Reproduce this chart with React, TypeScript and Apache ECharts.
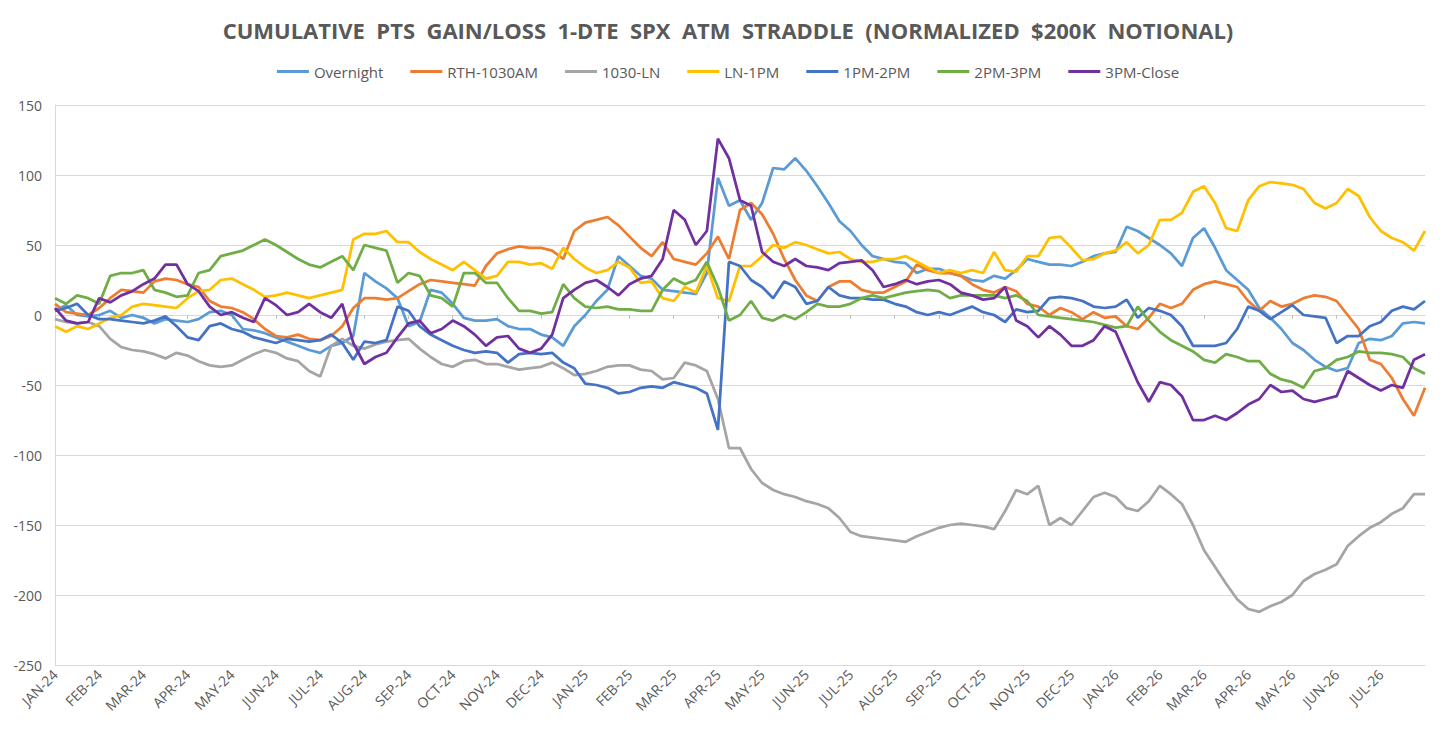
import React, { useEffect, useRef } from 'react';
import * as echarts from 'echarts';

const MONTHS = [
  'JAN-24', 'FEB-24', 'MAR-24', 'APR-24', 'MAY-24', 'JUN-24', 'JUL-24', 'AUG-24', 'SEP-24', 'OCT-24', 'NOV-24', 'DEC-24',
  'JAN-25', 'FEB-25', 'MAR-25', 'APR-25', 'MAY-25', 'JUN-25', 'JUL-25', 'AUG-25', 'SEP-25', 'OCT-25', 'NOV-25', 'DEC-25',
  'JAN-26', 'FEB-26', 'MAR-26', 'APR-26', 'MAY-26', 'JUN-26', 'JUL-26',
];

// four points per month (roughly weekly), plus the closing point
const CATEGORIES = [...MONTHS.flatMap((m) => [m, `${m} w2`, `${m} w3`, `${m} w4`]), 'AUG-26'];

const Y_MIN = -250;
const Y_MAX = 150;
const Y_STEP = 50;

const OVERNIGHT = [
  3, 7, 0, -1, 0, 3, -2, 0, -2, -6, -3, -4, -5, -3, 2, 3, 0, -10, -11, -13, -16, -19, -22, -25, -27, -22, -20, -15,
  30, 24, 19, 12, -8, -5, 18, 16, 8, -2, -4, -4, -3, -8, -10, -10, -14, -16, -22, -8, 0, 10, 18, 42, 35, 28, 26, 18,
  17, 16, 15, 30, 98, 78, 82, 68, 80, 105, 104, 112, 103, 92, 80, 67, 60, 50, 42, 40, 38, 37, 30, 33, 33, 30, 28, 25,
  24, 28, 26, 32, 40, 38, 36, 36, 35, 38, 42, 44, 45, 63, 60, 55, 50, 44, 35, 55, 62, 48, 32, 25, 18, 5, -2, -10, -20,
  -25, -32, -37, -40, -38, -20, -17, -18, -15, -6, -5, -6,
];

const RTH_1030 = [
  8, 2, 1, 0, 5, 12, 18, 17, 16, 24, 26, 25, 22, 20, 10, 6, 5, 2, -3, -10, -15, -16, -14, -17, -18, -15, -8, 5, 12, 12,
  11, 12, 17, 22, 25, 24, 23, 22, 21, 35, 44, 47, 49, 48, 48, 46, 40, 60, 66, 68, 70, 64, 56, 48, 42, 52, 40, 38, 36,
  44, 56, 40, 75, 80, 72, 58, 40, 25, 14, 10, 20, 24, 24, 18, 16, 16, 20, 24, 36, 32, 30, 30, 28, 22, 18, 16, 20, 17,
  8, 6, 0, 5, 2, -3, 2, -2, -1, -8, -10, -2, 8, 5, 8, 18, 22, 24, 22, 20, 10, 3, 10, 6, 8, 12, 14, 13, 10, 0, -10, -32,
  -35, -45, -60, -72, -52,
];

const LN_1030 = [
  -3, -5, -6, -5, -8, -17, -23, -25, -26, -28, -31, -27, -29, -33, -36, -37, -36, -32, -28, -25, -27, -31, -33, -40,
  -44, -22, -17, -22, -24, -21, -19, -18, -17, -24, -30, -35, -37, -33, -32, -35, -35, -37, -39, -38, -37, -34, -38,
  -43, -42, -40, -37, -36, -36, -39, -40, -46, -45, -34, -36, -40, -60, -95, -95, -110, -120, -125, -128, -130, -133,
  -135, -138, -145, -155, -158, -159, -160, -161, -162, -158, -155, -152, -150, -149, -150, -151, -153, -140, -125,
  -128, -122, -150, -145, -150, -140, -130, -127, -130, -138, -140, -133, -122, -128, -135, -150, -168, -180, -192,
  -203, -210, -212, -208, -205, -200, -190, -185, -182, -178, -165, -158, -152, -148, -142, -138, -128, -128,
];

const LN_1PM = [
  -8, -12, -8, -10, -6, -2, 0, 6, 8, 7, 6, 5, 12, 17, 18, 25, 26, 22, 18, 13, 14, 16, 14, 12, 14, 16, 18, 54, 58, 58,
  60, 52, 52, 45, 40, 36, 32, 38, 32, 26, 28, 38, 38, 36, 37, 33, 48, 40, 34, 30, 32, 38, 34, 23, 24, 12, 10, 20, 16,
  35, 12, 10, 35, 35, 42, 50, 48, 52, 50, 47, 44, 45, 40, 38, 38, 40, 40, 42, 38, 34, 30, 32, 30, 32, 30, 45, 32, 31,
  42, 42, 55, 56, 48, 39, 40, 44, 46, 52, 44, 50, 68, 68, 73, 88, 92, 80, 62, 60, 82, 92, 95, 94, 93, 90, 80, 76, 80,
  90, 85, 70, 60, 55, 52, 46, 60,
];

const PM1_2 = [
  3, 5, 8, 0, -3, -3, -4, -5, -6, -4, -1, -8, -16, -18, -8, -6, -10, -12, -16, -18, -20, -17, -18, -19, -18, -14, -20,
  -32, -19, -20, -18, 6, 3, -8, -14, -18, -22, -25, -27, -26, -27, -34, -28, -27, -28, -27, -34, -38, -49, -50, -52,
  -56, -55, -52, -51, -52, -48, -50, -52, -56, -82, 38, 35, 25, 20, 12, 24, 20, 8, 10, 20, 14, 12, 12, 11, 11, 8, 6,
  2, 0, 2, 0, 3, 6, 2, 0, -5, 4, 2, 3, 12, 13, 12, 10, 6, 5, 6, 11, -2, 5, 3, 0, -8, -22, -22, -22, -20, -10, 6, 3, -3,
  2, 7, 0, -1, -2, -20, -15, -15, -8, -5, 3, 6, 4, 10,
];

const PM2_3 = [
  12, 8, 14, 12, 8, 28, 30, 30, 32, 18, 16, 13, 14, 30, 32, 42, 44, 46, 50, 54, 50, 45, 40, 36, 34, 38, 42, 32, 50, 48,
  46, 23, 30, 28, 14, 12, 6, 30, 30, 23, 23, 12, 3, 3, 1, 2, 22, 12, 6, 5, 6, 4, 4, 3, 3, 18, 26, 22, 25, 38, 20, -4,
  0, 10, -2, -4, 0, -3, 2, 8, 6, 6, 8, 12, 14, 12, 14, 16, 17, 18, 17, 12, 14, 14, 14, 14, 12, 14, 10, 0, -1, -2, -3,
  -4, -5, -7, -9, -8, 6, -4, -12, -18, -22, -26, -32, -34, -28, -30, -33, -33, -42, -46, -48, -52, -40, -38, -32, -30,
  -26, -27, -27, -28, -30, -38, -42,
];

const PM3_CLOSE = [
  5, -4, -6, -5, 12, 9, 14, 17, 22, 26, 36, 36, 22, 17, 6, 0, 2, -2, -5, 12, 7, 0, 2, 8, 2, -2, 8, -20, -35, -30, -27,
  -16, -6, -4, -13, -10, -4, -8, -14, -22, -16, -15, -24, -27, -24, -14, 12, 18, 23, 25, 20, 14, 22, 26, 28, 40, 75,
  68, 50, 60, 126, 112, 82, 78, 45, 38, 35, 40, 35, 34, 32, 37, 38, 39, 32, 20, 22, 25, 22, 24, 25, 22, 16, 14, 11, 12,
  20, -4, -8, -16, -8, -14, -22, -22, -18, -8, -12, -30, -48, -62, -48, -50, -58, -75, -75, -72, -75, -70, -64, -60,
  -50, -55, -54, -60, -62, -60, -58, -40, -45, -50, -54, -50, -52, -32, -28,
];

const SERIES = [
  { name: 'Overnight', data: OVERNIGHT, color: '#5B9BD5' },
  { name: 'RTH-1030AM', data: RTH_1030, color: '#ED7D31' },
  { name: '1030-LN', data: LN_1030, color: '#A5A5A5' },
  { name: 'LN-1PM', data: LN_1PM, color: '#FFC000' },
  { name: '1PM-2PM', data: PM1_2, color: '#4472C4' },
  { name: '2PM-3PM', data: PM2_3, color: '#70AD47' },
  { name: '3PM-Close', data: PM3_CLOSE, color: '#7030A0' },
];

const TEXT = '#595959';
const FONT = '"Open Sans", "Noto Sans", sans-serif';

export default function App() {
  const elRef = useRef<HTMLDivElement | null>(null);

  useEffect(() => {
    if (!elRef.current) return;
    const chart = echarts.init(elRef.current, null, { renderer: 'svg' });

    const monthTick = (idx: number) => idx % 4 === 0 && idx < CATEGORIES.length - 1;

    const opt: echarts.EChartsOption = {
      animation: false,
      textStyle: { fontFamily: FONT },
      title: {
        text: 'CUMULATIVE  PTS  GAIN/LOSS  1-DTE  SPX  ATM  STRADDLE  (NORMALIZED  $200K  NOTIONAL)',
        left: 'center',
        top: 6,
        textStyle: { fontSize: 22, fontWeight: 'bold', color: TEXT, fontFamily: FONT },
      },
      legend: {
        top: 51,
        left: 'center',
        icon: 'rect',
        itemWidth: 32,
        itemHeight: 3,
        itemGap: 27,
        textStyle: { fontSize: 15, color: TEXT, fontFamily: FONT },
      },
      grid: { left: 47, right: 23, top: 97, bottom: 64 },
      xAxis: [
        {
          type: 'category',
          data: CATEGORIES,
          boundaryGap: false,
          axisLine: { show: true, onZero: false, lineStyle: { color: '#D9D9D9' } },
          axisTick: { show: false },
          axisLabel: {
            interval: (idx: number) => monthTick(idx),
            rotate: 45,
            fontSize: 14,
            color: TEXT,
            margin: 7,
            fontFamily: FONT,
          },
          splitLine: { show: false },
        },
        {
          type: 'category',
          data: CATEGORIES,
          boundaryGap: false,
          position: 'bottom',
          axisLine: { show: true, onZero: true, lineStyle: { color: '#D9D9D9' } },
          axisTick: { show: true, interval: (idx: number) => monthTick(idx), length: 4, lineStyle: { color: '#BFBFBF' } },
          axisLabel: { show: false },
          splitLine: { show: false },
        },
      ],
      yAxis: {
        type: 'value',
        min: Y_MIN,
        max: Y_MAX,
        interval: Y_STEP,
        axisLine: { show: true, lineStyle: { color: '#D9D9D9' } },
        axisTick: { show: false },
        axisLabel: { fontSize: 14, color: TEXT, margin: 13, fontFamily: FONT },
        splitLine: { lineStyle: { color: '#D9D9D9', width: 1 } },
      },
      series: SERIES.map((s) => ({
        name: s.name,
        type: 'line',
        xAxisIndex: 0,
        data: s.data,
        showSymbol: false,
        symbol: 'none',
        color: s.color,
        lineStyle: { width: 2.75, color: s.color },
      })),
    };

    chart.setOption(opt, true);
    return () => {
      chart.dispose();
    };
  }, []);

  return <div ref={elRef} style={{ width: 1440, height: 721 }} />;
}
